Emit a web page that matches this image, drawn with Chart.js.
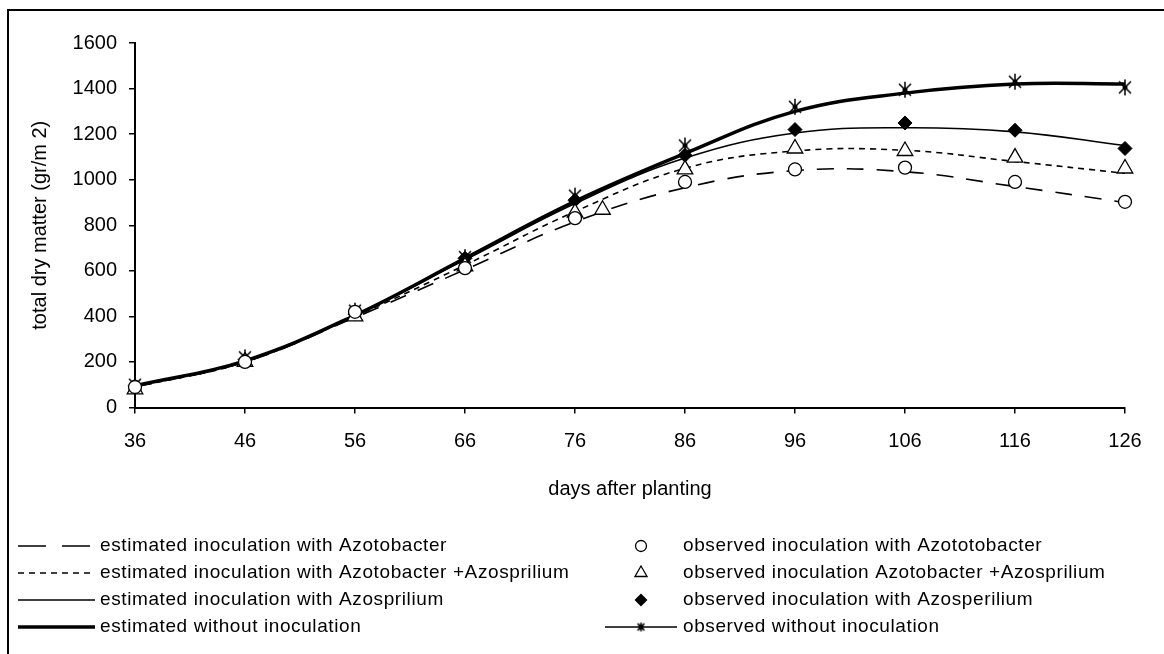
<!DOCTYPE html>
<html>
<head>
<meta charset="utf-8">
<script src="https://cdn.jsdelivr.net/npm/chart.js@4"></script>
<style>
html, body { margin: 0; padding: 0; background: #fff; }
</style>
</head>
<body>
<canvas id="myChart" width="1164" height="654"></canvas>
<script>
// days after planting
var days = [36, 46, 56, 66, 76, 86, 96, 106, 116, 126];
var yTicks = [0, 200, 400, 600, 800, 1000, 1200, 1400, 1600];

// estimated curves
var estAzotobacter = [90, 200, 395, 605, 815, 965, 1040, 1035, 970, 900];
var estAzotoAzospr = [90, 200, 400, 625, 860, 1050, 1126, 1129, 1080, 1028];
var estAzospr = [95, 205, 405, 648, 895, 1095, 1205, 1228, 1210, 1150];
var estWithout = [95, 205, 405, 655, 905, 1115, 1300, 1380, 1420, 1420];

// observed points
var obsAzotobacter = [90, 200, 420, 612, 831, 990, 1045, 1053, 990, 903];
var obsAzotoAzosprDays = [36, 46, 56, 66, 76, 78.5, 86, 96, 106, 116, 126];
var obsAzotoAzospr = [80, 200, 400, 620, 855, 868, 1045, 1137, 1126, 1097, 1049];
var obsAzospr = [95, 210, 410, 655, 910, 1107, 1220, 1249, 1217, 1137];
var obsWithout = [100, 220, 425, 660, 930, 1150, 1320, 1395, 1430, 1405];

var FONT = '"Liberation Sans", Arial, sans-serif';

function pts(xs, ys) {
  return xs.map(function (x, i) { return { x: x, y: ys[i] }; });
}

// asterisk marker like the old excel one
function makeStar(size) {
  var c = document.createElement('canvas');
  c.width = size; c.height = size;
  var g = c.getContext('2d');
  var m = size / 2, r = size / 2 - 1, d = r * 0.75;
  g.strokeStyle = '#000';
  g.lineWidth = 1.5;
  g.beginPath();
  g.moveTo(m, m - r); g.lineTo(m, m + r);
  g.moveTo(m - d, m - d); g.lineTo(m + d, m + d);
  g.moveTo(m + d, m - d); g.lineTo(m - d, m + d);
  g.stroke();
  g.fillStyle = '#000';
  g.beginPath(); g.arc(m, m, 2.5, 0, Math.PI * 2); g.fill();
  return c;
}
var starBig = makeStar(18);
var starSmall = makeStar(11);

var frame = {
  id: 'frame',
  beforeDraw: function (chart) {
    var ctx = chart.ctx;
    ctx.save();
    ctx.fillStyle = '#fff';
    ctx.fillRect(0, 0, chart.width, chart.height);
    ctx.strokeStyle = '#000';
    ctx.lineWidth = 2;
    ctx.beginPath();
    ctx.moveTo(8, chart.height);
    ctx.lineTo(8, 10);
    ctx.lineTo(chart.width, 10);
    ctx.stroke();
    ctx.restore();
  }
};

var legendRowsY = [546, 573, 600, 627];

var bottomLegend = {
  id: 'bottomLegend',
  afterDraw: function (chart) {
    var ctx = chart.ctx;
    var ds = chart.data.datasets;
    ctx.save();
    ctx.font = '19px ' + FONT;
    ctx.fillStyle = '#000';
    ctx.textBaseline = 'middle';
    ctx.textAlign = 'left';
    try { ctx.letterSpacing = '0.6px'; } catch (e) {}
    for (var i = 0; i < 4; i++) {
      var d = ds[i], y = legendRowsY[i];
      ctx.strokeStyle = '#000';
      ctx.lineWidth = d.borderWidth;
      ctx.setLineDash(d.legendDash || d.borderDash || []);
      ctx.beginPath();
      ctx.moveTo(18, y); ctx.lineTo(95, y);
      ctx.stroke();
      ctx.setLineDash([]);
      ctx.fillText(d.label, 100, y);
    }
    for (var j = 4; j < 8; j++) {
      var e = ds[j], yy = legendRowsY[j - 4];
      if (j === 7) {
        ctx.lineWidth = 1.5;
        ctx.beginPath(); ctx.moveTo(605, yy); ctx.lineTo(677, yy); ctx.stroke();
        ctx.drawImage(starSmall, 641 - 5.5, yy - 5.5);
      } else {
        ctx.fillStyle = e.pointBackgroundColor;
        ctx.strokeStyle = '#000';
        ctx.lineWidth = 1.3;
        Chart.helpers.drawPoint(ctx, { pointStyle: e.pointStyle, radius: e.pointStyle === 'triangle' ? 7 : 5.5, rotation: 0, borderWidth: 1.3 }, 641, yy);
      }
      ctx.fillStyle = '#000';
      ctx.fillText(e.label, 683, yy);
    }
    ctx.restore();
  }
};

var ctx = document.getElementById('myChart').getContext('2d');
var myChart = new Chart(ctx, {
  type: 'line',
  data: {
    datasets: [{
      label: 'estimated inoculation with Azotobacter',
      data: pts(days, estAzotobacter),
      borderColor: '#000', borderWidth: 1.6, borderDash: [17, 13], legendDash: [28, 16],
      pointRadius: 0, tension: 0.4, order: 4
    }, {
      label: 'estimated inoculation with Azotobacter +Azosprilium',
      data: pts(days, estAzotoAzospr),
      borderColor: '#000', borderWidth: 1.6, borderDash: [6, 5],
      pointRadius: 0, tension: 0.4, order: 3
    }, {
      label: 'estimated inoculation with Azosprilium',
      data: pts(days, estAzospr),
      borderColor: '#000', borderWidth: 1.6,
      pointRadius: 0, tension: 0.4, order: 2
    }, {
      label: 'estimated without inoculation',
      data: pts(days, estWithout),
      borderColor: '#000', borderWidth: 3.5,
      pointRadius: 0, tension: 0.4, order: 1
    }, {
      label: 'observed inoculation with Azototobacter',
      data: pts(days, obsAzotobacter),
      showLine: false, pointStyle: 'circle', pointRadius: 6.5,
      pointBackgroundColor: '#fff', pointBorderColor: '#000', pointBorderWidth: 1.3
    }, {
      label: 'observed inoculation Azotobacter +Azosprilium',
      data: pts(obsAzotoAzosprDays, obsAzotoAzospr),
      showLine: false, pointStyle: 'triangle', pointRadius: 9,
      pointBackgroundColor: '#fff', pointBorderColor: '#000', pointBorderWidth: 1.3
    }, {
      label: 'observed inoculation with Azosperilium',
      data: pts(days, obsAzospr),
      showLine: false, pointStyle: 'rectRot', pointRadius: 7,
      pointBackgroundColor: '#000', pointBorderColor: '#000', pointBorderWidth: 1
    }, {
      label: 'observed without inoculation',
      data: pts(days, obsWithout),
      showLine: false, pointStyle: starBig, pointRadius: 9,
      pointBackgroundColor: '#000', pointBorderColor: '#000'
    }]
  },
  options: {
    responsive: false,
    animation: false,
    clip: false,
    layout: { padding: { left: 0, top: 43, right: 39, bottom: 146.5 } },
    plugins: { legend: { display: false }, tooltip: { enabled: false } },
    scales: {
      x: {
        type: 'linear', min: 36, max: 126,
        afterBuildTicks: function (s) { s.ticks = days.map(function (v) { return { value: v }; }); },
        afterFit: function (s) { s.height = 100; },
        ticks: { color: '#000', font: { family: FONT, size: 20 }, padding: 16, maxRotation: 0,
          callback: function (v) { return String(v); } },
        grid: { drawOnChartArea: false, drawTicks: true, tickLength: 6, color: '#000', lineWidth: 1.5 },
        border: { color: '#000', width: 2 },
        title: { display: true, text: 'days after planting', color: '#000', font: { family: FONT, size: 20 }, padding: { top: 0, bottom: 6 } }
      },
      y: {
        min: 0, max: 1600,
        afterBuildTicks: function (s) { s.ticks = yTicks.map(function (v) { return { value: v }; }); },
        afterFit: function (s) { s.width = 135; },
        ticks: { color: '#000', font: { family: FONT, size: 20 }, padding: 12,
          callback: function (v) { return String(v); } },
        grid: { drawOnChartArea: false, drawTicks: true, tickLength: 6, color: '#000', lineWidth: 1.5 },
        border: { color: '#000', width: 2 },
        title: { display: true, text: 'total dry matter (gr/m 2)', color: '#000', font: { family: FONT, size: 20 }, padding: { top: 28, bottom: 0 } }
      }
    }
  },
  plugins: [frame, bottomLegend]
});
</script>
</body>
</html>
